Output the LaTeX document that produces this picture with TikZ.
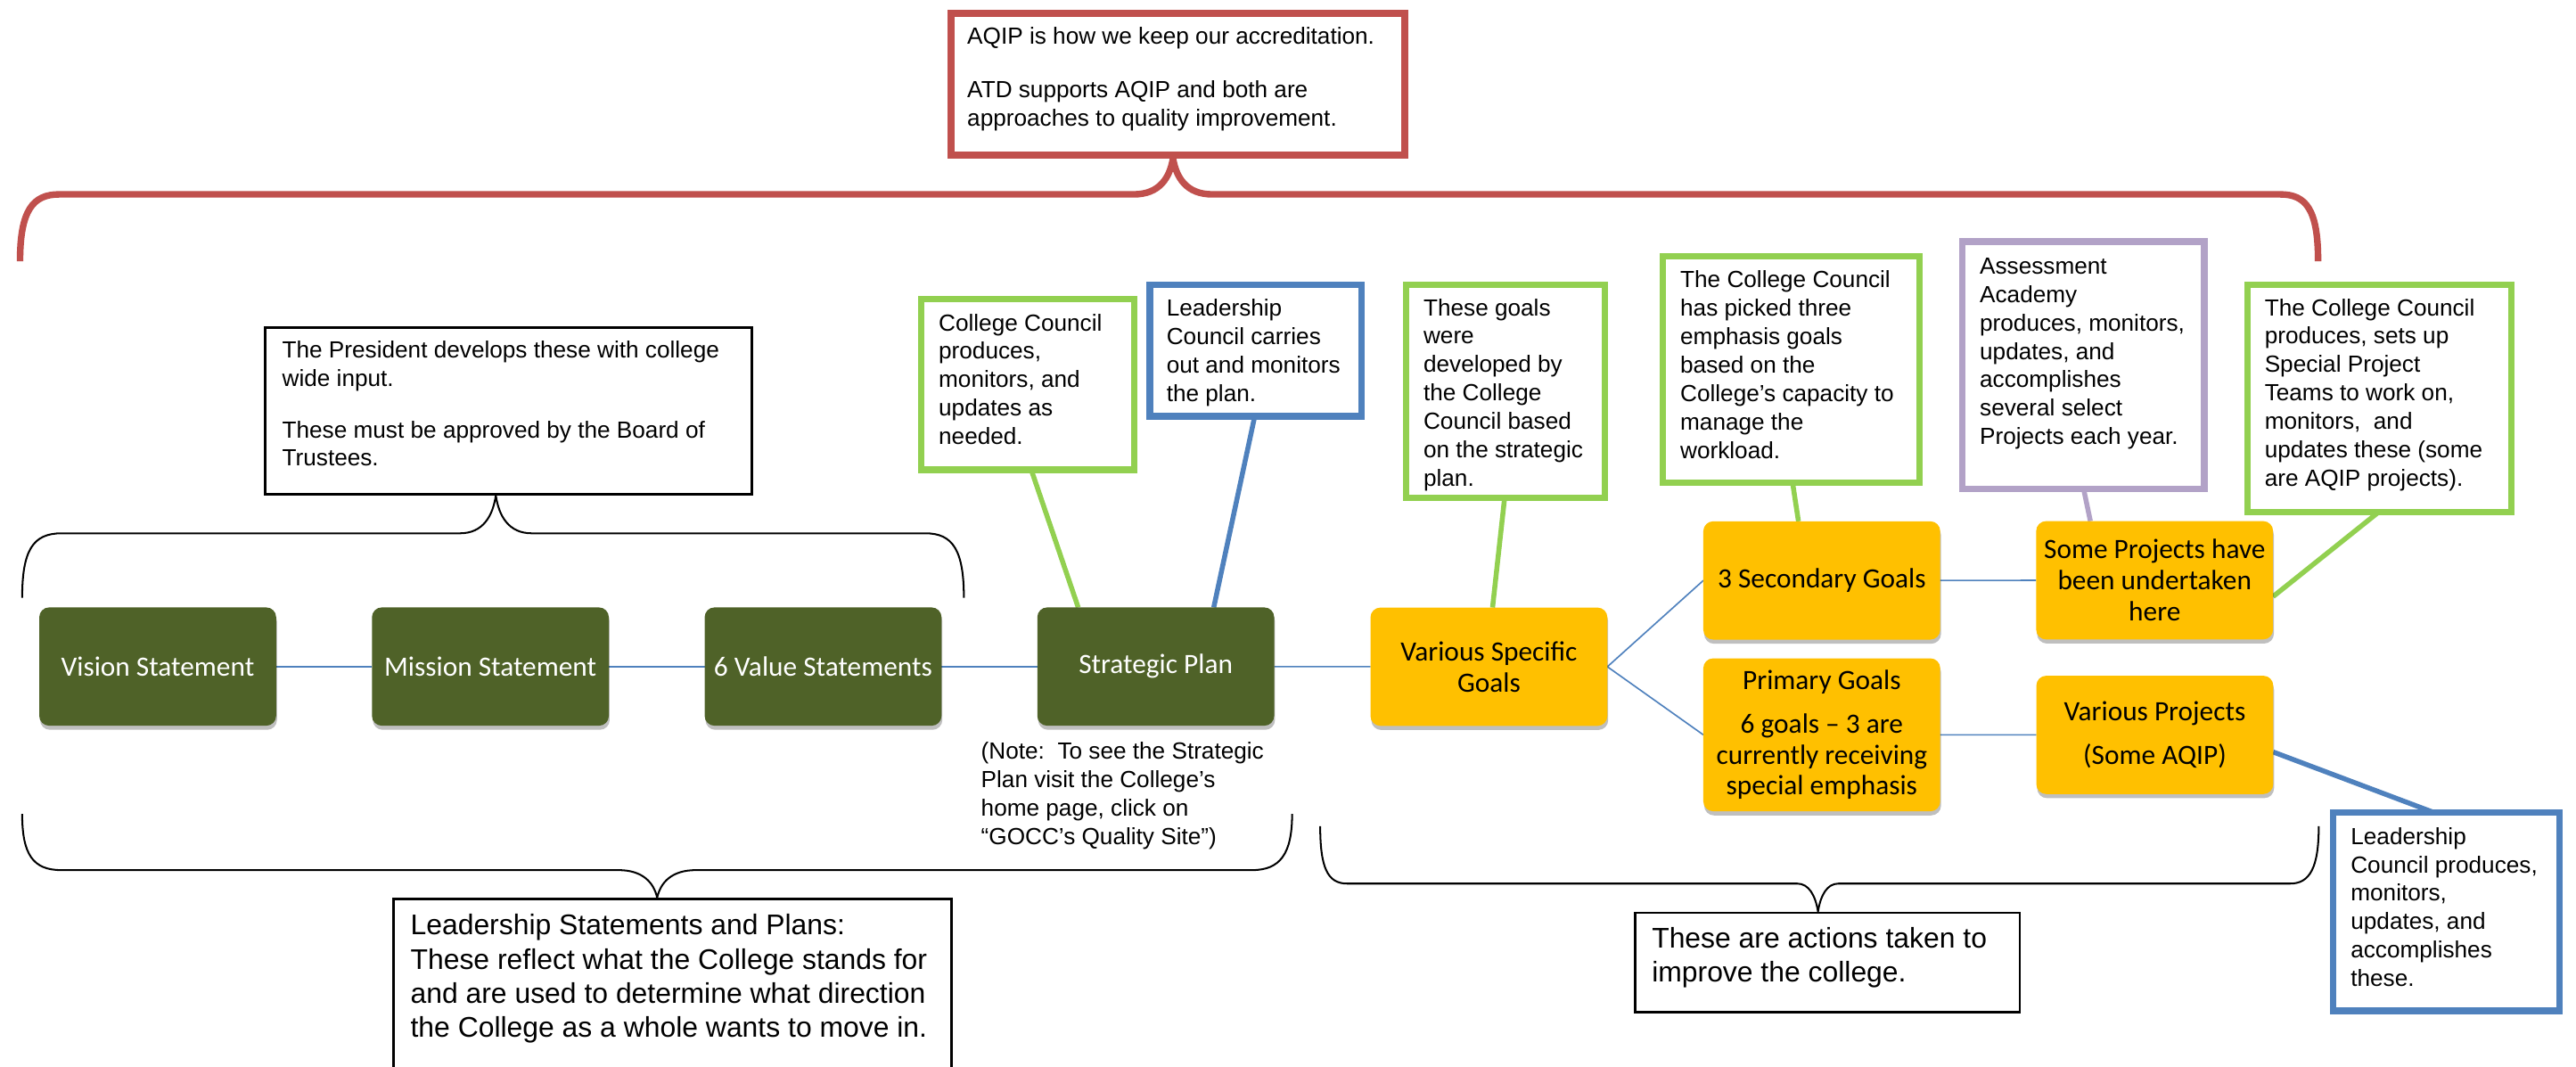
\documentclass[tikz,border=0pt]{standalone}
\usepackage{fontspec}
\setmainfont{Liberation Sans}
\newfontfamily\calibri{Carlito}
\usetikzlibrary{shadows}
\definecolor{dkgreen}{HTML}{4F6228}
\definecolor{gold}{HTML}{FFC000}
\definecolor{lnblue}{HTML}{4F81BD}
\definecolor{lngreen}{HTML}{92D050}
\definecolor{lnpurple}{HTML}{B2A2C7}
\definecolor{lnred}{HTML}{C0504D}
\pgfdeclarelayer{bg}
\pgfsetlayers{bg,main}
\newcommand{\tb}[1]{\begin{tabular}[t]{@{}l@{}}#1\end{tabular}}
\tikzset{
  proc/.style={rounded corners=6pt, minimum width=144.2pt, minimum height=72pt,
    inner sep=2pt, outer sep=0pt, align=center,
    font=\calibri\fontsize{17}{18.9}\selectfont,
    drop shadow={shadow xshift=0.5pt, shadow yshift=-2.5pt, opacity=0.25, fill=black}},
  lead/.style={proc, fill=dkgreen, text=white},
  act/.style={proc, fill=gold, text=black},
  conn/.style={draw=lnblue, line width=0.9pt},
  cbox/.style={draw=#1, line width=4pt, fill=white, outer sep=0pt, inner sep=0pt, anchor=north west},
  callln/.style={draw=#1, line width=3pt},
  wbox/.style={draw=black, line width=1.4pt, fill=white, outer sep=0pt, inner sep=0pt, anchor=north west},
  brc/.style={draw=black, line width=1.1pt, line join=round},
  smtxt/.style={anchor=base west, inner sep=0pt, font=\fontsize{14.2}{17.3}\selectfont},
  bigtxt/.style={anchor=base west, inner sep=0pt, font=\fontsize{17.3}{20.8}\selectfont},
}
\begin{document}
\begin{tikzpicture}[x=1pt, y=-1pt]
\useasboundingbox (0,0) rectangle (1568,649);
\clip (0,0) rectangle (1568,649);

% process nodes
\node[lead] (vision) at (96,405.7) {Vision Statement};
\node[lead] (mission) at (298.5,405.7) {Mission Statement};
\node[lead] (values) at (501,405.7) {6 Value Statements};
\node[lead] (strat) at (703.5,405.7) {Strategic Plan};
\node[act] (vsg) at (906.3,405.8) {Various Specific\\Goals};
\node[act] (sec3) at (1108.9,353.3) {3 Secondary Goals};
\node[act, minimum height=93.1pt] (prim) at (1108.9,447.25) {Primary Goals\\[7.6pt]6 goals – 3 are\\currently receiving\\special emphasis};
\node[act] (somep) at (1311.5,353.2) {Some Projects have\\been undertaken\\here};
\node[act] (varp) at (1311.6,447.3) {Various Projects\\[7.6pt](Some AQIP)};

% boxes
\node[cbox=lnred, minimum width=276pt, minimum height=86.3pt] (aqip) at (579,8.2) {};
\node[wbox, minimum width=296.4pt, minimum height=101.4pt] (pres) at (161.3,199.4) {};
\node[cbox=lngreen, minimum width=129.8pt, minimum height=103.9pt] (ccprod) at (560.7,182) {};
\node[cbox=lnblue, minimum width=128.7pt, minimum height=80.1pt] (lccar) at (699.9,173.2) {};
\node[cbox=lngreen, minimum width=120.9pt, minimum height=129.5pt] (goals) at (855.9,173.4) {};
\node[cbox=lngreen, minimum width=156.1pt, minimum height=138pt] (pick) at (1012.2,155.9) {};
\node[cbox=lnpurple, minimum width=147.2pt, minimum height=150.7pt] (assess) at (1194.5,147) {};
\node[cbox=lngreen, minimum width=160.8pt, minimum height=138.3pt] (setsup) at (1367.9,173.4) {};
\node[cbox=lnblue, minimum width=137.7pt, minimum height=120.6pt] (lcprod) at (1420.3,494.7) {};
\node[wbox, minimum width=339.8pt, minimum height=160pt] (lsp) at (239.5,547.2) {};
\node[wbox, minimum width=234.2pt, minimum height=60.5pt] (acts) at (995.2,555.5) {};

\begin{pgfonlayer}{bg}
\draw[conn] (vision) -- (mission);
\draw[conn] (mission) -- (values);
\draw[conn] (values) -- (strat);
\draw[conn] (strat) -- (vsg);
\draw[conn] (vsg.east) -- (sec3.west);
\draw[conn] (vsg.east) -- (prim.west);
\draw[conn] (sec3) -- (somep);
\draw[conn] (prim) -- (varp);
\draw[callln=lngreen] ([xshift=2.1pt]ccprod.south) -- ([xshift=-47.2pt]strat.north);
\draw[callln=lnblue] ([xshift=-0.5pt]lccar.south) -- ([xshift=35.3pt]strat.north);
\draw[callln=lngreen] ([xshift=-0.5pt]goals.south) -- ([xshift=2.2pt]vsg.north);
\draw[callln=lngreen] ([xshift=0.9pt]pick.south) -- ([xshift=-14.2pt]sec3.north);
\draw[callln=lnpurple] ([xshift=0.2pt]assess.south) -- ([xshift=-39.1pt]somep.north);
\draw[callln=lngreen] ([xshift=-0.5pt]setsup.south) -- ([yshift=-9.9pt]somep.east);
\draw[callln=lnblue] ([yshift=-10.4pt]varp.east) -- ([xshift=-7.2pt]lcprod.north);
% braces
\draw[draw=lnred, line width=4pt, line join=round] (12.2,159) .. controls (12.2,128) and (20,118.3) .. (36,118.3) -- (690,118.3) .. controls (706,118.3) and (712,108) .. (714,96.5) .. controls (716,108) and (722,118.3) .. (738,118.3) -- (1388,118.3) .. controls (1404,118.3) and (1411,128) .. (1411,159);
\draw[brc] (13.5,363.8) .. controls (13.5,335) and (20,324.6) .. (37.4,324.6) -- (280,324.6) .. controls (294,324.6) and (300,314) .. (301.8,301.5) .. controls (303.6,314) and (309.6,324.6) .. (323.6,324.6) -- (563.4,324.6) .. controls (580,324.6) and (586.7,335) .. (586.7,363.8);
\draw[brc] (13.5,495.4) .. controls (13.5,520) and (20,529.6) .. (37.4,529.6) -- (376.5,529.6) .. controls (391,529.6) and (398,537) .. (400,546.5) .. controls (402,537) and (409,529.6) .. (423.5,529.6) -- (762,529.6) .. controls (779,529.6) and (786.5,520) .. (786.5,495.4);
\draw[brc] (803.6,502.9) .. controls (803.6,528) and (808,537.8) .. (820,537.8) -- (1094,537.8) .. controls (1101,537.8) and (1105,545) .. (1106.6,554.8) .. controls (1108.2,545) and (1112,537.8) .. (1119,537.8) -- (1394,537.8) .. controls (1406,537.8) and (1411.4,528) .. (1411.4,502.9);
\end{pgfonlayer}

% texts
\node[smtxt] (aqip-t) at (588.6,27) {\tb{AQIP is how we keep our accreditation.\\[14.9pt]ATD supports AQIP and both are\\approaches to quality improvement.}};
\node[smtxt] (pres-t) at (171.6,218) {\tb{The President develops these with college\\wide input.\\[13.8pt]These must be approved by the Board of\\Trustees.}};
\node[smtxt] (note-t) at (597,461.9) {\tb{(Note:\ \ To see the Strategic\\Plan visit the College’s\\home page, click on\\“GOCC’s Quality Site”)}};
\node[bigtxt] (lsp-t) at (249.7,569) {\tb{Leadership Statements and Plans:\\These reflect what the College stands for\\and are used to determine what direction\\the College as a whole wants to move in.}};
\node[bigtxt] (acts-t) at (1005.3,576.8) {\tb{These are actions taken to\\improve the college.}};
\node[smtxt] (ccprod-t) at (571.2,201.3) {\tb{College Council\\produces,\\monitors, and\\updates as\\needed.}};
\node[smtxt] (lccar-t) at (709.9,192.4) {\tb{Leadership\\Council carries\\out and monitors\\the plan.}};
\node[smtxt] (goals-t) at (866.3,192.1) {\tb{These goals\\were\\developed by\\the College\\Council based\\on the strategic\\plan.}};
\node[smtxt] (pick-t) at (1022.6,175.1) {\tb{The College Council\\has picked three\\emphasis goals\\based on the\\College’s capacity to\\manage the\\workload.}};
\node[smtxt] (assess-t) at (1204.9,166.8) {\tb{Assessment\\Academy\\produces, monitors,\\updates, and\\accomplishes\\several select\\Projects each year.}};
\node[smtxt] (setsup-t) at (1378.3,192.1) {\tb{The College Council\\produces, sets up\\Special Project\\Teams to work on,\\monitors,\ \ and\\updates these (some\\are AQIP projects).}};
\node[smtxt] (lcprod-t) at (1430.7,513.9) {\tb{Leadership\\Council produces,\\monitors,\\updates, and\\accomplishes\\these.}};
\end{tikzpicture}
\end{document}
